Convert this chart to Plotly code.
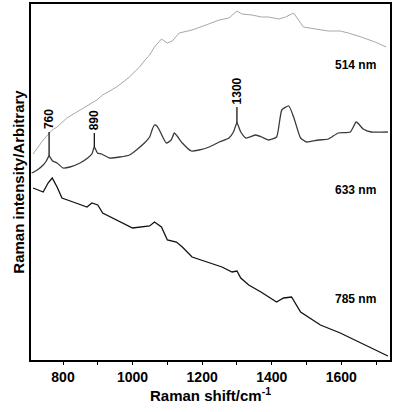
import plotly.graph_objects as go

# Raman shift (cm-1) and relative intensity (arbitrary units) for each excitation
shift_514 = [714, 743, 769, 783, 811, 849, 897, 914, 954, 991, 1020, 1043, 1049, 1063, 1083,
             1100, 1114, 1134, 1171, 1211, 1249, 1277, 1300, 1314, 1343, 1371, 1391, 1420,
             1440, 1463, 1471, 1491, 1526, 1563, 1597, 1620, 1657, 1697, 1729]
int_514 = [206, 220, 230, 233, 242, 250, 260, 265, 273, 283, 293, 303, 305, 313, 321,
           317, 319, 327, 330, 335, 340, 342, 349, 346, 345, 343, 343, 341,
           343, 347, 343, 333, 331, 329, 329, 327, 323, 318, 313]

shift_633 = [710, 726, 743, 752, 760, 770, 783, 800, 820, 849, 871, 883, 890, 899, 911, 934,
             963, 991, 1011, 1034, 1049, 1057, 1063, 1070, 1077, 1097, 1111, 1120, 1128, 1143, 1169,
             1191, 1220, 1249, 1277, 1290, 1300, 1311, 1326, 1354, 1371, 1391, 1414, 1429,
             1449, 1463, 1483, 1500, 1534, 1563, 1591, 1626, 1643, 1663, 1686, 1734]
int_633 = [187, 190, 195, 199, 204, 199, 197, 192, 193, 197, 202, 206, 213, 207, 206, 202,
           203, 205, 210, 217, 223, 231, 235, 234, 230, 217, 220, 227, 224, 217, 209,
           210, 213, 218, 222, 228, 237, 228, 222, 225, 223, 220, 223, 250,
           254, 243, 222, 218, 220, 221, 227, 228, 238, 231, 228, 228]

shift_785 = [714, 743, 757, 769, 783, 797, 829, 869, 883, 900, 914, 963, 1000, 1049, 1063,
             1083, 1100, 1126, 1143, 1171, 1220, 1257, 1286, 1300, 1311, 1334, 1369, 1383,
             1414, 1434, 1457, 1483, 1540, 1597, 1683, 1734]
int_785 = [172, 168, 177, 182, 173, 162, 158, 153, 157, 155, 147, 138, 132, 134, 138,
           133, 120, 118, 113, 103, 97, 93, 88, 89, 82, 75, 68, 65,
           58, 62, 63, 48, 35, 27, 13, 4]

series_names = ["514 nm", "633 nm", "785 nm"]
series_label_y = [295, 170, 61]

peak_labels = ["760", "890", "1300"]
peak_shift = [760, 890, 1300]
peak_label_base = [228, 227, 253]

FONT = "Liberation Sans, Arial"

fig = go.Figure()
fig.add_trace(go.Scatter(x=shift_514, y=int_514, mode="lines",
                         line=dict(color="#a8a8a8", width=1), name=series_names[0]))
fig.add_trace(go.Scatter(x=shift_633, y=int_633, mode="lines",
                         line=dict(color="#3a3a3a", width=1.3, shape="spline", smoothing=0.5),
                         name=series_names[1]))
fig.add_trace(go.Scatter(x=shift_785, y=int_785, mode="lines",
                         line=dict(color="#111111", width=1.3), name=series_names[2]))

# peak markers
for lab, s, base in zip(peak_labels, peak_shift, peak_label_base):
    ypk = int_633[shift_633.index(s)]
    fig.add_shape(type="line", x0=s, x1=s, y0=ypk, y1=base,
                  line=dict(color="black", width=1.2))
    fig.add_annotation(x=s, y=base, text="<b>" + lab + "</b>", textangle=-90, showarrow=False,
                       xanchor="center", yanchor="bottom", yshift=1,
                       font=dict(family=FONT, size=12, color="black"))

for name, yl in zip(series_names, series_label_y):
    fig.add_annotation(x=1705, y=yl, text="<b>" + name + "</b>", showarrow=False,
                       xanchor="right", yanchor="middle",
                       font=dict(family=FONT, size=12, color="black"))

fig.update_layout(
    width=395, height=412,
    margin=dict(l=31, r=5, t=4, b=52, autoexpand=False),
    paper_bgcolor="white", plot_bgcolor="white",
    showlegend=False,
    font=dict(family=FONT, color="black"),
)
fig.update_xaxes(
    range=[708, 1740], showline=True, linecolor="black", linewidth=1.5, mirror=True,
    showgrid=False, zeroline=False, automargin=False,
    tickmode="array", tickvals=[800, 1000, 1200, 1400, 1600],
    ticktext=["<b>800</b>", "<b>1000</b>", "<b>1200</b>", "<b>1400</b>", "<b>1600</b>"],
    ticks="outside", ticklen=3, tickwidth=1, tickcolor="black",
    minor=dict(tickvals=[900, 1100, 1300, 1500, 1700], ticks="outside", ticklen=3,
               tickcolor="black", tickwidth=1),
    tickfont=dict(size=14),
    title=dict(text="<b>Raman shift/cm<sup>-1</sup></b>", font=dict(size=15), standoff=2),
)
fig.update_yaxes(
    range=[0, 356], showline=True, linecolor="black", linewidth=1.5, mirror=True,
    showgrid=False, zeroline=False, showticklabels=False, ticks="", automargin=False,
    title=dict(text="<b>Raman intensity/Arbitrary</b>", font=dict(size=15), standoff=1),
)

fig.write_html("out.html", config={"displayModeBar": False},
               post_script="document.body.style.margin='0px';document.body.style.overflow='hidden';")
